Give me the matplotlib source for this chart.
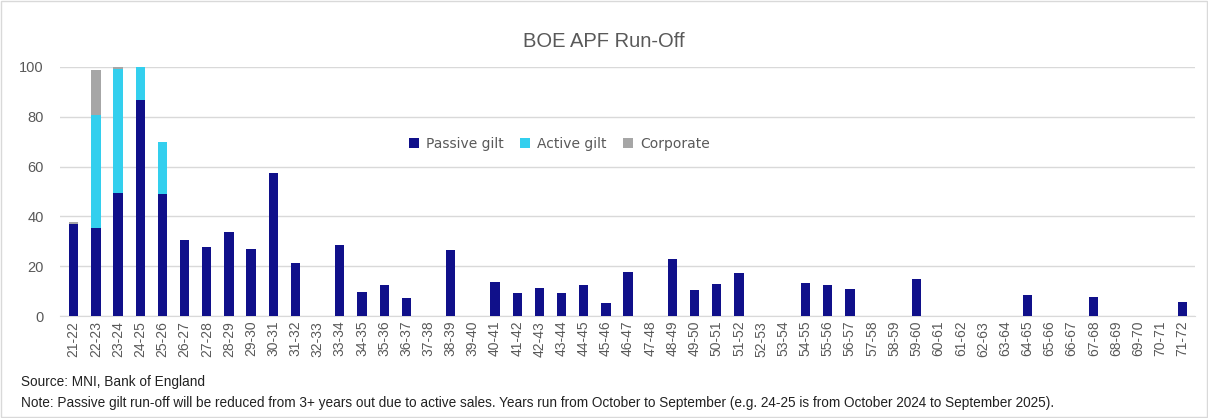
import matplotlib.pyplot as plt
import numpy as np
from matplotlib.patches import Rectangle

# Years run October to September
years = [f"{y}-{y + 1}" for y in range(21, 72)]

passive = [37.0, 35.3, 49.5, 86.9, 49.1, 30.5, 27.5, 33.8, 26.7, 57.6,
           21.3, 0, 28.5, 9.5, 12.4, 7.3, 0, 26.4, 0, 13.6,
           9.1, 11.4, 9.1, 12.4, 5.3, 17.7, 0, 23.0, 10.5, 12.8,
           17.3, 0, 0, 13.2, 12.4, 10.9, 0, 0, 15.0, 0,
           0, 0, 0, 8.4, 0, 0, 7.7, 0, 0, 0,
           5.7]
active = [0, 45.2, 49.6, 13.5, 20.7] + [0] * 46
corporate = [0.6, 18.2, 0.9] + [0] * 48

C_PASSIVE = "#10108A"
C_ACTIVE = "#33CFEE"
C_CORP = "#A6A6A6"

fig = plt.figure(figsize=(12.08, 4.18), dpi=100)
fig.patches.append(Rectangle((0.001, 0.002), 0.998, 0.996, transform=fig.transFigure,
                             fill=False, edgecolor="#D9D9D9", linewidth=1))
ax = fig.add_axes([0.05, 0.244, 0.939, 0.596])

x = np.arange(len(years))
p = np.array(passive)
a = np.array(active)
c = np.array(corporate)
w = 0.42
ax.bar(x, p, w, color=C_PASSIVE, label="Passive gilt", zorder=3)
ax.bar(x, a, w, bottom=p, color=C_ACTIVE, label="Active gilt", zorder=3)
ax.bar(x, c, w, bottom=p + a, color=C_CORP, label="Corporate", zorder=3)

ax.set_ylim(0, 100)
ax.set_xlim(-0.6, len(years) - 0.45)
ax.set_yticks(range(0, 101, 20))
ax.yaxis.grid(True, color="#D9D9D9", linewidth=1, zorder=0)
for s in ax.spines.values():
    s.set_visible(False)
ax.spines["bottom"].set_visible(True)
ax.spines["bottom"].set_color("#D9D9D9")
ax.tick_params(axis="both", length=0, colors="#595959", labelsize=10)
ax.tick_params(axis="y", pad=12, labelsize=10.5)
ax.set_xticks(x)
ax.set_xticklabels(years, rotation=90, fontsize=10, family="Liberation Sans")
for lab in ax.get_yticklabels():
    lab.set_family("Liberation Sans")

ax.legend(loc="center", bbox_to_anchor=(0.44, 0.69), ncol=3, frameon=False,
          fontsize=10, handlelength=0.7, handleheight=0.7, columnspacing=1.2,
          handletextpad=0.5, labelcolor="#595959")

fig.text(0.5, 0.9, "BOE APF Run-Off", ha="center", va="center", fontsize=14.5,
         color="#595959", family="Liberation Sans")
fig.text(0.017, 0.085, "Source: MNI, Bank of England", fontsize=9.8, color="#222222",
         va="center", family="Liberation Sans")
fig.text(0.017, 0.037, "Note: Passive gilt run-off will be reduced from 3+ years out due to active sales. "
         "Years run from October to September (e.g. 24-25 is from October 2024 to September 2025).",
         fontsize=9.8, color="#222222", va="center", family="Liberation Sans")

fig.savefig("out.png", dpi=100)
